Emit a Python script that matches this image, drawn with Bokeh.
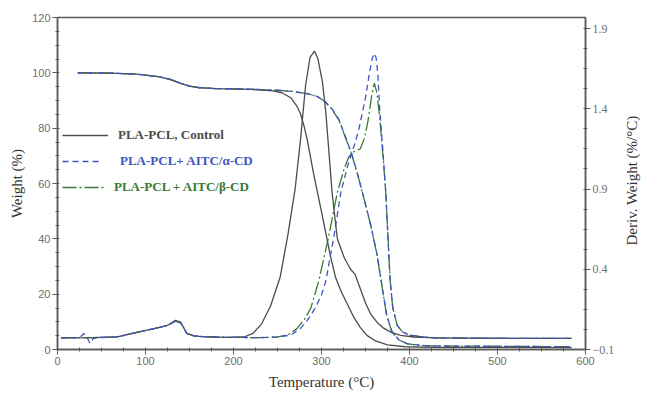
import math
from bokeh.plotting import figure
from bokeh.models import Range1d, LinearAxis, FixedTicker, Legend, LegendItem, Label
from bokeh.embed import file_html
from bokeh.resources import INLINE

# ---------------- data ----------------
# Weight (%) curves
ctrl_wt_T = [23, 60, 90, 100, 115, 128, 140, 150, 162, 180, 220, 245, 255, 265, 272, 276, 280, 284, 291, 299,
             305, 310, 316, 323, 330, 337, 344, 352, 362, 375, 395, 430, 584]
ctrl_wt = [100, 99.9, 99.5, 99.2, 98.6, 97.6, 96.2, 95.2, 94.6, 94.3, 94.0, 93.5, 92.8, 91.0, 88.0, 85.3, 81.0,
           75.5, 63.6, 51.3, 42.0, 34.0, 26.0, 20.5, 16.0, 11.5, 8.0, 5.0, 3.0, 1.7, 1.0, 0.8, 0.7]

alpha_wt_T = [23, 60, 90, 100, 115, 128, 140, 150, 162, 180, 220, 250, 270, 285, 295, 303, 312, 320, 327, 334,
              341, 348, 356, 363, 369, 374, 380, 388, 398, 420, 584]
alpha_wt = [100, 99.9, 99.5, 99.2, 98.6, 97.6, 96.2, 95.2, 94.6, 94.3, 94.1, 93.7, 93.2, 92.4, 91.5, 90.0, 87.0,
            83.0, 77.0, 71.0, 63.5, 55.0, 45.0, 34.6, 22.5, 12.5, 6.5, 3.5, 2.0, 1.3, 1.0]

beta_wt_T = [23, 60, 90, 100, 115, 128, 140, 150, 162, 180, 220, 250, 270, 285, 295, 303, 312, 320, 327, 334,
             341, 348, 356, 363, 369, 374, 380, 388, 398, 420, 584]
beta_wt = [100, 99.9, 99.5, 99.2, 98.6, 97.6, 96.2, 95.2, 94.6, 94.3, 94.1, 93.7, 93.2, 92.4, 91.4, 89.8, 86.8,
           82.8, 76.8, 70.8, 63.3, 54.8, 44.8, 34.4, 22.3, 12.3, 6.4, 3.4, 2.0, 1.3, 1.0]

# Derivative weight (%/°C) curves
ctrl_d_T = [4, 40, 68, 94, 110, 125, 134, 140, 147, 155, 165, 190, 212, 222, 232, 242, 253, 262, 270, 276, 282,
            287, 292, 296, 301, 305, 308, 312, 318, 326, 333, 338, 344, 350, 356, 363, 370, 380, 390, 405, 430,
            500, 584]
ctrl_d = [-0.027, -0.026, -0.021, 0.012, 0.03, 0.05, 0.082, 0.07, 0.0, -0.015, -0.02, -0.024, -0.022, 0.0, 0.06,
          0.17, 0.35, 0.62, 0.90, 1.20, 1.55, 1.72, 1.76, 1.71, 1.57, 1.37, 1.16, 0.88, 0.59, 0.47, 0.40, 0.37,
          0.28, 0.19, 0.12, 0.07, 0.035, 0.005, -0.012, -0.022, -0.028, -0.030, -0.031]

alpha_d_T = [4, 25, 30, 34, 37, 41, 46, 68, 94, 110, 125, 134, 140, 147, 155, 165, 190, 230, 250, 265, 276, 285,
             293, 300, 305, 314, 322, 330, 336, 342, 350, 355, 358, 360, 362, 364, 366, 370, 373, 376, 378, 381,
             386, 392, 400, 415, 430, 480, 584]
alpha_d = [-0.027, -0.027, 0.0, -0.03, -0.062, -0.03, -0.026, -0.021, 0.012, 0.03, 0.05, 0.076, 0.065, 0.0,
           -0.015, -0.02, -0.024, -0.026, -0.022, -0.01, 0.03, 0.09, 0.16, 0.24, 0.33, 0.60, 0.88, 1.05, 1.15,
           1.26, 1.47, 1.64, 1.72, 1.745, 1.72, 1.62, 1.41, 1.12, 0.88, 0.55, 0.33, 0.16, 0.05, 0.01, -0.01,
           -0.022, -0.027, -0.030, -0.031]

beta_d_T = [4, 40, 68, 94, 110, 125, 134, 140, 147, 155, 165, 190, 230, 250, 262, 272, 281, 288, 297, 308, 318,
            326, 331, 336, 344, 349, 353, 357, 360, 363, 366, 370, 373, 376, 378, 381, 386, 392, 400, 415, 430,
            480, 584]
beta_d = [-0.027, -0.026, -0.021, 0.012, 0.03, 0.05, 0.076, 0.068, 0.0, -0.015, -0.02, -0.024, -0.026, -0.022,
          -0.01, 0.03, 0.09, 0.16, 0.33, 0.60, 0.88, 1.03, 1.10, 1.13, 1.15, 1.22, 1.33, 1.48, 1.56, 1.50, 1.35,
          1.10, 0.88, 0.55, 0.33, 0.16, 0.05, 0.01, -0.01, -0.022, -0.027, -0.030, -0.031]

x_ticks = [0, 100, 200, 300, 400, 500, 600]
y_ticks = [0, 20, 40, 60, 80, 100, 120]
d_ticks = [-0.1, 0.4, 0.9, 1.4, 1.9]

labels = ["PLA-PCL, Control", "PLA-PCL+ AITC/\u03b1-CD", "PLA-PCL + AITC/\u03b2-CD"]
right_title = "Deriv. Weight (%/\u00b0C)"

# ---------------- styling ----------------
C_CTRL = "#4b4b4b"
C_ALPHA = "#3f55c2"
C_BETA = "#3a7a34"
AX = "#5a5a5a"
SERIF = "Liberation Serif"
SANS = "Liberation Sans"

p = figure(width=645, height=403, output_backend="svg", toolbar_location=None,
           x_range=Range1d(0, 600), y_range=Range1d(0, 120),
           min_border_left=57, min_border_right=60, min_border_top=17, min_border_bottom=54)
p.extra_y_ranges = {"deriv": Range1d(-0.1, 1.969)}
p.xgrid.visible = False
p.ygrid.visible = False
p.outline_line_color = AX
p.outline_line_width = 1.5
p.background_fill_color = "white"
p.border_fill_color = "white"

# curves
lw = 1.3
r_b1 = p.line(beta_wt_T, beta_wt, color=C_BETA, line_width=lw, line_dash="14 3 2 3")
r_b2 = p.line(beta_d_T, beta_d, color=C_BETA, line_width=lw, line_dash="14 3 2 3", y_range_name="deriv")
r_c1 = p.line(ctrl_wt_T, ctrl_wt, color=C_CTRL, line_width=lw)
r_c2 = p.line(ctrl_d_T, ctrl_d, color=C_CTRL, line_width=lw, y_range_name="deriv")
r_a1 = p.line(alpha_wt_T, alpha_wt, color=C_ALPHA, line_width=lw, line_dash="6 4")
r_a2 = p.line(alpha_d_T, alpha_d, color=C_ALPHA, line_width=lw, line_dash="6 4", y_range_name="deriv")

# axes
xa = p.xaxis[0]
xa.ticker = FixedTicker(ticks=x_ticks, minor_ticks=list(range(0, 601, 25)))
xa.axis_label = "Temperature (\u00b0C)"
ya = p.yaxis[0]
ya.ticker = FixedTicker(ticks=y_ticks, minor_ticks=list(range(0, 121, 5)))
ya.axis_label = "Weight (%)"

ra = LinearAxis(y_range_name="deriv",
                ticker=FixedTicker(ticks=d_ticks, minor_ticks=[round(-0.1 + 0.125 * k, 3) for k in range(17)]))
p.add_layout(ra, "right")

for ax in (xa, ya, ra):
    ax.axis_line_color = AX
    ax.axis_line_width = 1.5
    ax.major_tick_line_color = AX
    ax.minor_tick_line_color = AX
    ax.major_tick_out = 5
    ax.major_tick_in = 0
    ax.minor_tick_out = 2
    ax.minor_tick_in = 2
    ax.major_label_text_font_size = "11px"
    ax.major_label_text_color = "#6e6e6e"
    ax.major_label_text_font = SANS
    ax.major_label_standoff = 2
    ax.axis_label_text_font = SERIF
    ax.axis_label_text_font_style = "normal"
    ax.axis_label_text_font_size = "15px"
    ax.axis_label_text_color = "#333333"
ra.major_label_text_font = SERIF
ra.major_label_text_font_size = "12px"
xa.axis_label_standoff = 6
ya.axis_label_standoff = 4

# right-hand title, reading bottom-to-top, in its own side panel
p.add_layout(Label(x=14, y=169, x_units="screen", y_units="screen", text=right_title,
                   angle=math.pi / 2, text_align="center", text_baseline="middle",
                   text_font=SERIF, text_font_size="15px", text_color="#333333"), "right")

# legends (one per entry so each label has its own colour)
specs = [
    (labels[0], [r_c1], C_CTRL, 46, 10, 204),
    (labels[1], [r_a1], C_ALPHA, 38, 20, 178),
    (labels[2], [r_b1], C_BETA, 43, 9, 152),
]
for lab, rs, col, gw, stand, vy in specs:
    lg = Legend(items=[LegendItem(label=lab, renderers=rs)], location=(5, vy),
                glyph_width=gw, glyph_height=20, label_standoff=stand, padding=0, margin=0,
                border_line_color=None, background_fill_alpha=0,
                label_text_font=SERIF, label_text_font_style="bold", label_text_font_size="13px",
                label_text_color=col)
    p.add_layout(lg, "center")

open("out.html", "w").write(file_html(p, INLINE))
